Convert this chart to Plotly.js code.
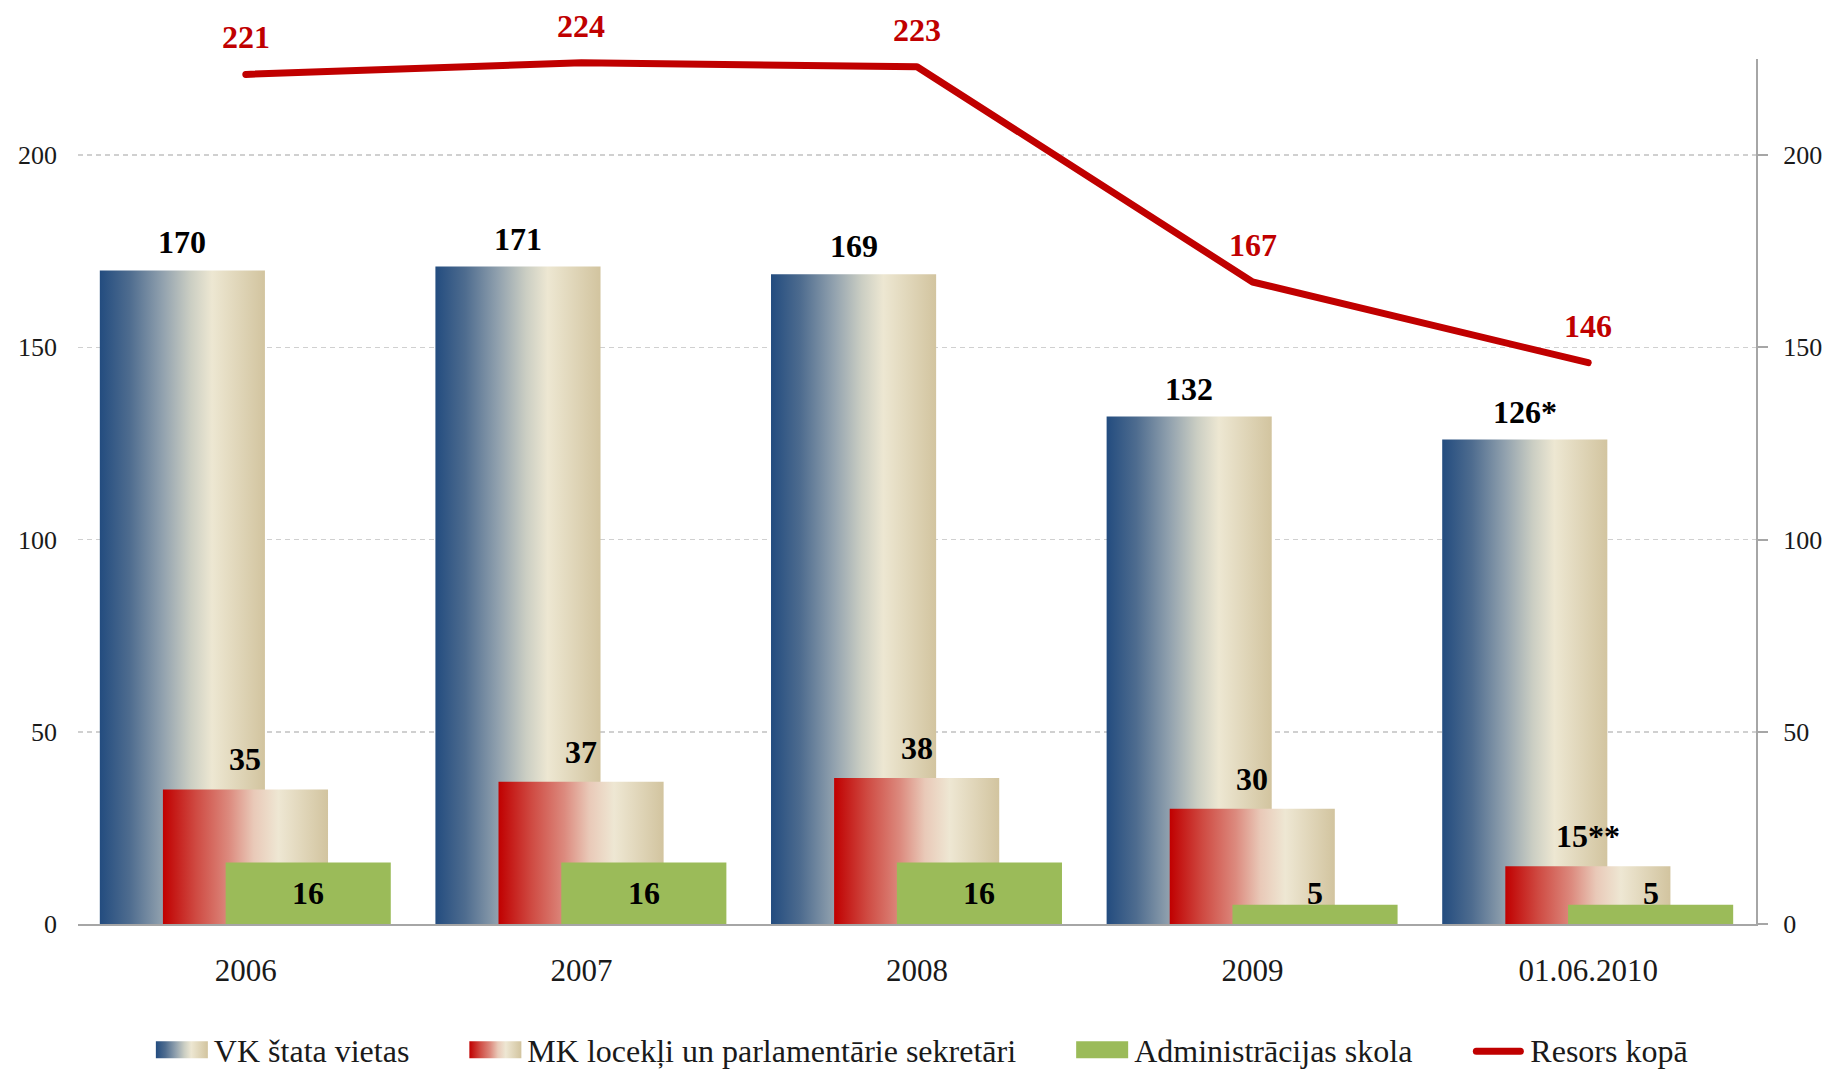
<!DOCTYPE html>
<html><head><meta charset="utf-8">
<script src="https://cdn.plot.ly/plotly-3.0.1.min.js"></script>
<style>html,body{margin:0;padding:0;background:#fff;overflow:hidden}#chart{width:1823px;height:1073px}</style>
</head><body><div id="chart"></div>
<script>
const categories = ['2006', '2007', '2008', '2009', '01.06.2010'];
const vkValues = [170, 171, 169, 132, 126];
const vkLabels = ['170', '171', '169', '132', '126*'];
const mkValues = [35, 37, 38, 30, 15];
const mkLabels = ['35', '37', '38', '30', '15**'];
const adminValues = [16, 16, 16, 5, 5];
const adminLabels = ['16', '16', '16', '5', '5'];
const totalValues = [221, 224, 223, 167, 146];
const totalLabels = ['221', '224', '223', '167', '146'];
const seriesNames = ['VK štata vietas', 'MK locekļi un parlamentārie sekretāri', 'Administrācijas skola', 'Resors kopā'];

const FONT = '"Liberation Serif","Times New Roman",serif';
const BAR_W = 0.492;
const OFFS = [-0.435, -0.247, -0.06];
const RED = '#C00000';
const LEG_W = 103;

const data = [
  {type: 'bar', name: seriesNames[0], x: categories, y: vkValues, offset: OFFS[0], width: BAR_W,
   marker: {color: '#8FA0AE', line: {width: 0}}, hoverinfo: 'skip'},
  {type: 'bar', name: seriesNames[1], x: categories, y: mkValues, offset: OFFS[1], width: BAR_W,
   marker: {color: '#E08070', line: {width: 0}}, hoverinfo: 'skip'},
  {type: 'bar', name: seriesNames[2], x: categories, y: adminValues, offset: OFFS[2], width: BAR_W,
   marker: {color: '#9BBB59', line: {width: 0}}, hoverinfo: 'skip'},
  {type: 'scatter', mode: 'lines', name: seriesNames[3], x: categories, y: totalValues, yaxis: 'y2',
   line: {color: RED, width: 7}, hoverinfo: 'skip'}
];

const annotations = [];
const lblFont = (c) => ({family: FONT, size: 32, color: c, weight: 700});
categories.forEach((c, i) => {
  annotations.push({xref: 'x', yref: 'y', x: i + OFFS[0] + BAR_W / 2, y: vkValues[i], text: vkLabels[i],
    showarrow: false, yanchor: 'bottom', yshift: 8, font: lblFont('#000')});
  annotations.push({xref: 'x', yref: 'y', x: i + OFFS[1] + BAR_W / 2, y: mkValues[i], text: mkLabels[i],
    showarrow: false, yanchor: 'bottom', yshift: 10, font: lblFont('#000')});
  annotations.push({xref: 'x', yref: 'y', x: i + OFFS[2] + BAR_W / 2, y: 8, text: adminLabels[i],
    showarrow: false, yanchor: 'middle', font: lblFont('#000')});
  annotations.push({xref: 'x', yref: 'y2', x: i, y: totalValues[i], text: totalLabels[i],
    showarrow: false, yanchor: 'bottom', yshift: 17, font: lblFont(RED)});
});

const tickFont = {family: FONT, size: 26, color: '#1a1a1a'};
const layout = {
  width: 1823, height: 1073,
  margin: {l: 78, r: 67, t: 59, b: 149, pad: 0, autoexpand: false},
  paper_bgcolor: '#fff', plot_bgcolor: '#fff',
  barmode: 'overlay',
  font: {family: FONT, color: '#1a1a1a'},
  showlegend: true,
  legend: {orientation: 'h', x: 0.488, xanchor: 'center', xref: 'paper', yref: 'container', y: 0.022, yanchor: 'middle',
    font: {family: FONT, size: 32, color: '#1a1a1a'}, itemwidth: LEG_W, traceorder: 'normal'},
  xaxis: {type: 'category', range: [-0.5, 4.5], showline: true, linecolor: '#A6A6A6', linewidth: 2,
    ticks: '', showgrid: false, zeroline: false, tickfont: {family: FONT, size: 31, color: '#1a1a1a'},
    ticklabelstandoff: 18, fixedrange: true},
  yaxis: {range: [0, 225], tickvals: [0, 50, 100, 150, 200], showline: false, ticks: '',
    showgrid: true, gridcolor: '#D0D0D0', gridwidth: 1.5, griddash: '5px,4px', zeroline: false,
    tickfont: tickFont, ticklabelstandoff: 20, fixedrange: true},
  yaxis2: {range: [0, 225], tickvals: [0, 50, 100, 150, 200], overlaying: 'y', side: 'right',
    showline: true, linecolor: '#A6A6A6', linewidth: 2, ticks: 'outside', ticklen: 10,
    tickcolor: '#A6A6A6', tickwidth: 2, showgrid: false, zeroline: false, tickfont: tickFont,
    ticklabelstandoff: 10, fixedrange: true},
  annotations: annotations
};

Plotly.newPlot('chart', data, layout, {staticPlot: true, displayModeBar: false}).then(gd => {
  const NS = 'http://www.w3.org/2000/svg';
  const svg = gd.querySelector('svg.main-svg');
  let defs = svg.querySelector('defs');
  if (!defs) { defs = document.createElementNS(NS, 'defs'); svg.insertBefore(defs, svg.firstChild); }
  function grad(id, stops) {
    const lg = document.createElementNS(NS, 'linearGradient');
    lg.setAttribute('id', id);
    lg.setAttribute('x1', '0'); lg.setAttribute('y1', '0'); lg.setAttribute('x2', '1'); lg.setAttribute('y2', '0');
    stops.forEach(([o, c]) => {
      const s = document.createElementNS(NS, 'stop');
      s.setAttribute('offset', o); s.setAttribute('stop-color', c);
      lg.appendChild(s);
    });
    defs.appendChild(lg);
  }
  grad('gVK', [['0', '#234C7F'], ['0.18', '#4E6C8F'], ['0.38', '#91A1AE'], ['0.55', '#CBCEC3'], ['0.68', '#EDE7D2'], ['1', '#D2C49F']]);
  grad('gMK', [['0', '#C00000'], ['0.2', '#CF4A42'], ['0.4', '#DC8A7E'], ['0.55', '#E9C9B8'], ['0.7', '#EEE7D3'], ['1', '#D2C49F']]);
  const bt = gd.querySelectorAll('.barlayer .trace');
  if (bt[0]) bt[0].querySelectorAll('path').forEach(p => { p.style.fill = 'url(#gVK)'; });
  if (bt[1]) bt[1].querySelectorAll('path').forEach(p => { p.style.fill = 'url(#gMK)'; });
  const right = LEG_W / 2 - 1, left = right - 52;
  const lineShift = LEG_W / 2 + 5;
  const lt = gd.querySelectorAll('.legend .traces');
  lt.forEach((t, i) => {
    t.querySelectorAll('.legendsymbols path, .legendpoints path, .legendlines path, path.legendbar, path.js-line').forEach(p => {
      if (i < 3) {
        p.setAttribute('d', `M${left},-8H${right}V9H${left}Z`);
        if (i === 0) p.style.fill = 'url(#gVK)';
        if (i === 1) p.style.fill = 'url(#gMK)';
        if (i === 2) p.style.fill = '#9BBB59';
        p.style.stroke = 'none';
      } else {
        p.setAttribute('d', `M${left + 4 + lineShift},2H${right - 4 + lineShift}`);
        p.style.strokeLinecap = 'round';
      }
    });
  });
  gd.querySelectorAll('.scatterlayer .js-line').forEach(p => { p.style.strokeLinecap = 'round'; p.style.strokeLinejoin = 'round'; });
});
</script>
</body></html>
